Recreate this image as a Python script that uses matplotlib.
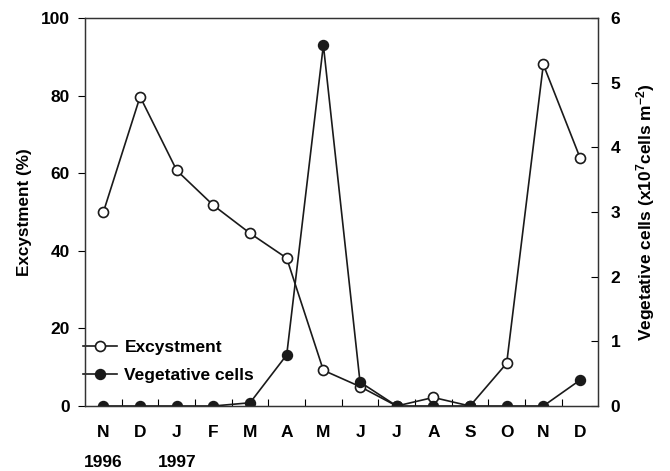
import matplotlib
matplotlib.use('Agg')
import matplotlib.pyplot as plt
from matplotlib.lines import Line2D
import numpy as np

plt.rcParams['font.family'] = 'Liberation Sans'
plt.rcParams['font.weight'] = 'bold'
plt.rcParams['mathtext.fontset'] = 'custom'
plt.rcParams['mathtext.rm'] = 'Liberation Sans:bold'
plt.rcParams['mathtext.bf'] = 'Liberation Sans:bold'
plt.rcParams['mathtext.default'] = 'bf'

months = ['N', 'D', 'J', 'F', 'M', 'A', 'M', 'J', 'J', 'A', 'S', 'O', 'N', 'D']
years = ['1996', '', '1997', '', '', '', '', '', '', '', '', '', '', '']
excystment = [50, 79.7, 60.7, 51.7, 44.5, 38.1, 9.2, 5, 0, 2.2, 0, 11, 88, 64]
vegetative = [0, 0, 0, 0, 0.05, 0.79, 5.58, 0.37, 0, 0, 0, 0, 0, 0.40]

x = np.arange(len(months))

fig = plt.figure(figsize=(6.7, 4.71), dpi=100)
ax = fig.add_axes([0.127, 0.138, 0.766, 0.824])
ax2 = ax.twinx()

lw = 1.2
ms = 7.2
ax.plot(x, excystment, color='#1a1a1a', lw=lw, marker='o', ms=ms,
        mfc='white', mec='#1a1a1a', mew=1.2)
ax2.plot(x, vegetative, color='#1a1a1a', lw=lw, marker='o', ms=ms,
         mfc='#1a1a1a', mec='#1a1a1a')

ax.set_xlim(-0.5, 13.5)
ax.set_ylim(0, 100)
ax2.set_ylim(0, 6)

ax.set_yticks([0, 20, 40, 60, 80, 100])
ax2.set_yticks([0, 1, 2, 3, 4, 5, 6])
ax.set_xticks(x)
ax.set_xticklabels(months, fontsize=12.5, fontweight='bold')
ax.set_xticks(x[:-1] + 0.5, minor=True)

ax.tick_params(axis='y', direction='out', length=5, width=0.8, labelsize=12.5, pad=6)
ax.tick_params(axis='x', which='major', length=0, labelsize=12.5, pad=14)
ax.tick_params(axis='x', which='minor', direction='in', length=5, width=0.8)
ax2.tick_params(axis='y', direction='in', length=5, width=0.8, labelsize=12.5, pad=9)

for a in (ax, ax2):
    for s in a.spines.values():
        s.set_linewidth(0.9)
        s.set_color('#333333')

ax.set_ylabel('Excystment (%)', fontsize=12.3, fontweight='bold', labelpad=6)
ax2.set_ylabel(r'Vegetative cells (x10$^{7}$cells m$^{-2}$)', fontsize=12.5,
               fontweight='bold', labelpad=10)

# year row under the month labels
for xi, yr in zip(x, years):
    if yr:
        ax.annotate(yr, xy=(xi, 0), xycoords=('data', 'axes fraction'),
                    xytext=(0, -35), textcoords='offset points',
                    ha='center', va='top', fontsize=12.5, fontweight='bold')

handles = [
    Line2D([], [], color='#1a1a1a', lw=lw, marker='o', ms=ms,
           mfc='white', mec='#1a1a1a', mew=1.2),
    Line2D([], [], color='#1a1a1a', lw=lw, marker='o', ms=ms,
           mfc='#1a1a1a', mec='#1a1a1a'),
]
leg = ax.legend(handles, ['Excystment', 'Vegetative cells'], loc='lower left',
                bbox_to_anchor=(-0.035, 0.02), frameon=False, fontsize=12.5,
                handlelength=2.0, handletextpad=0.4, labelspacing=0.7)
for t in leg.get_texts():
    t.set_fontweight('bold')

fig.savefig('out.png', dpi=100)
